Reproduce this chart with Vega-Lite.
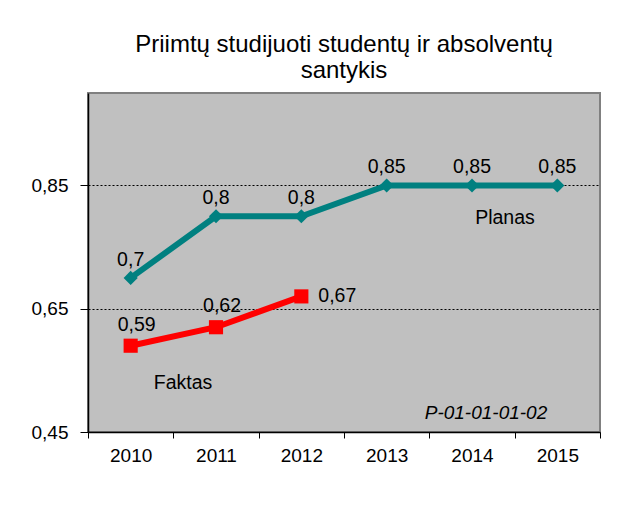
{
  "$schema": "https://vega.github.io/schema/vega-lite/v6.json",
  "width": 512,
  "height": 339,
  "autosize": {"type": "none"},
  "padding": {"left": 88, "top": 93, "right": 27, "bottom": 81},
  "background": "white",
  "config": {
    "font": "Liberation Sans",
    "view": {"fill": "#C0C0C0", "stroke": "#808080", "strokeWidth": 2},
    "locale": {"number": {"decimal": ",", "thousands": " ", "grouping": [3], "currency": ["", " €"]}}
  },
  "title": {
    "text": ["Priimtų studijuoti studentų ir absolventų", "santykis"],
    "font": "Liberation Sans",
    "fontSize": 24,
    "fontWeight": "normal",
    "color": "black",
    "anchor": "middle",
    "lineHeight": 26,
    "offset": 10
  },
  "layer": [
    {
      "data": {
        "values": [
          {"year": "2010", "series": "Planas", "value": 0.7},
          {"year": "2011", "series": "Planas", "value": 0.8},
          {"year": "2012", "series": "Planas", "value": 0.8},
          {"year": "2013", "series": "Planas", "value": 0.85},
          {"year": "2014", "series": "Planas", "value": 0.85},
          {"year": "2015", "series": "Planas", "value": 0.85},
          {"year": "2010", "series": "Faktas", "value": 0.59},
          {"year": "2011", "series": "Faktas", "value": 0.62},
          {"year": "2012", "series": "Faktas", "value": 0.67}
        ]
      },
      "encoding": {
        "x": {
          "field": "year",
          "type": "nominal",
          "scale": {"type": "band", "paddingInner": 0, "paddingOuter": 0},
          "axis": {
            "title": null,
            "labelAngle": 0,
            "labelFont": "Liberation Sans",
            "labelFontSize": 19,
            "labelColor": "black",
            "labelPadding": 8,
            "tickBand": "extent",
            "tickSize": 6,
            "tickColor": "black",
            "domainColor": "black",
            "domainWidth": 1.5,
            "grid": false
          }
        },
        "y": {
          "field": "value",
          "type": "quantitative",
          "scale": {"domain": [0.45, 1.0], "nice": false, "zero": false},
          "axis": {
            "title": null,
            "values": [0.45, 0.65, 0.85],
            "format": ".2f",
            "labelFont": "Liberation Sans",
            "labelFontSize": 19,
            "labelColor": "black",
            "labelPadding": 12,
            "tickSize": 8,
            "tickColor": "black",
            "domainColor": "black",
            "domainWidth": 1.5,
            "grid": true,
            "gridColor": "black",
            "gridDash": [2, 2],
            "gridWidth": 1
          }
        }
      },
      "layer": [
        {
          "mark": {"type": "line", "strokeWidth": 6},
          "encoding": {
            "color": {"field": "series", "type": "nominal", "scale": {"domain": ["Planas", "Faktas"], "range": ["#008080", "#FF0000"]}, "legend": null}
          }
        },
        {
          "mark": {"type": "point", "filled": true, "opacity": 1, "size": 200},
          "encoding": {
            "color": {"field": "series", "type": "nominal", "scale": {"domain": ["Planas", "Faktas"], "range": ["#008080", "#FF0000"]}, "legend": null},
            "shape": {"field": "series", "type": "nominal", "scale": {"domain": ["Planas", "Faktas"], "range": ["diamond", "square"]}, "legend": null}
          }
        },
        {
          "transform": [{"filter": "datum.series == 'Planas'"}],
          "mark": {"type": "text", "fontSize": 19.5, "dy": -18, "color": "black"},
          "encoding": {"text": {"field": "value", "type": "quantitative", "format": ".2~f"}}
        },
        {
          "transform": [{"filter": "datum.series == 'Faktas' && datum.year != '2012'"}],
          "mark": {"type": "text", "fontSize": 19.5, "dy": -21, "dx": 6, "color": "black"},
          "encoding": {"text": {"field": "value", "type": "quantitative", "format": ".2~f"}}
        },
        {
          "transform": [{"filter": "datum.series == 'Faktas' && datum.year == '2012'"}],
          "mark": {"type": "text", "fontSize": 19.5, "dx": 17, "align": "left", "color": "black"},
          "encoding": {"text": {"field": "value", "type": "quantitative", "format": ".2~f"}}
        }
      ]
    },
    {
      "data": {"values": [{"label": "Planas"}]},
      "mark": {"type": "text", "fontSize": 19.5, "dx": 33, "dy": 2, "color": "black"},
      "encoding": {"x": {"datum": "2014"}, "y": {"datum": 0.8}, "text": {"field": "label"}}
    },
    {
      "data": {"values": [{"label": "Faktas"}]},
      "mark": {"type": "text", "fontSize": 19.5, "dx": -33, "color": "black"},
      "encoding": {"x": {"datum": "2011"}, "y": {"datum": 0.53}, "text": {"field": "label"}}
    },
    {
      "data": {"values": [{"label": "P-01-01-01-02"}]},
      "mark": {"type": "text", "fontSize": 19, "fontStyle": "italic", "dx": 14, "dy": 1, "color": "black"},
      "encoding": {"x": {"datum": "2014"}, "y": {"datum": 0.482}, "text": {"field": "label"}}
    }
  ]
}
